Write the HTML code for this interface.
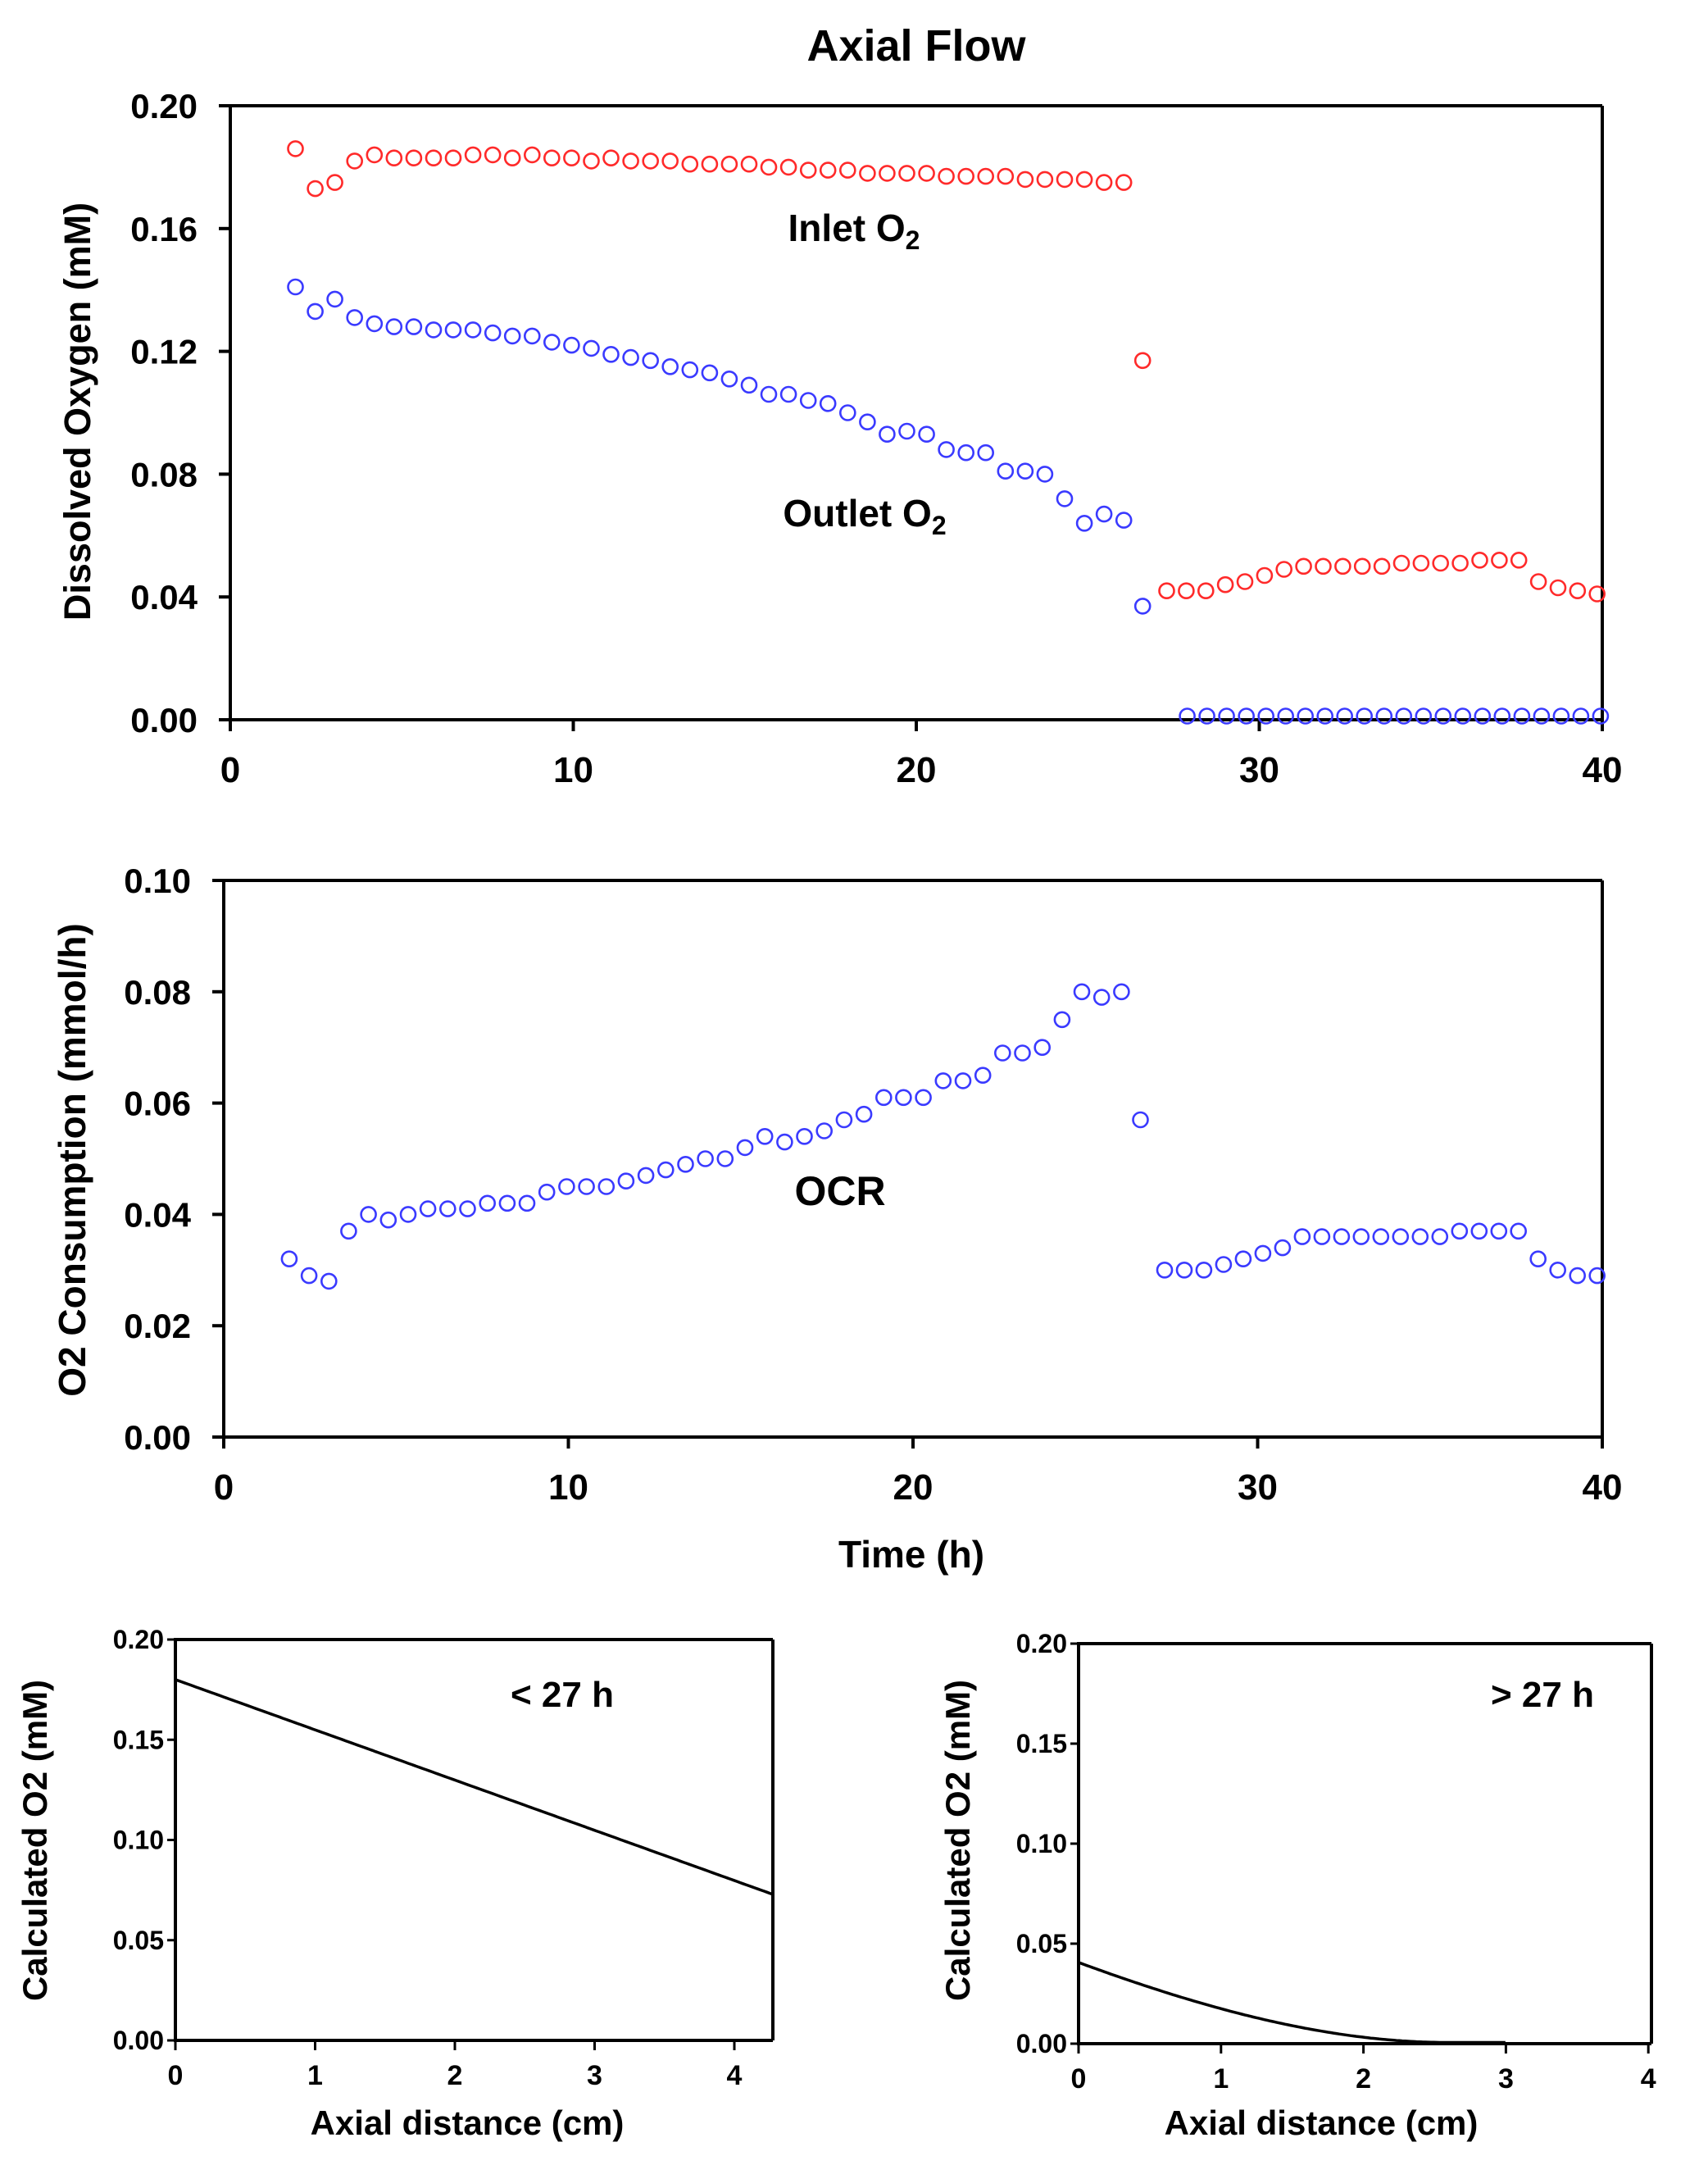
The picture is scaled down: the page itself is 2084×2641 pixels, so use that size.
<!DOCTYPE html>
<html><head><meta charset="utf-8"><style>
html,body{margin:0;padding:0;background:#fff;}
svg{display:block;}
text{font-family:"Liberation Sans",sans-serif;font-weight:bold;fill:#000;}
</style></head><body>
<svg id="s" width="2084" height="2641" xmlns="http://www.w3.org/2000/svg">
<text x="1118" y="74" font-size="54" text-anchor="middle">Axial Flow</text>
<text x="1042" y="294" font-size="46" text-anchor="middle">Inlet O<tspan font-size="32" dy="10">2</tspan></text>
<text x="1055" y="642" font-size="46" text-anchor="middle">Outlet O<tspan font-size="32" dy="10">2</tspan></text>
<text x="1025" y="1470" font-size="50" text-anchor="middle">OCR</text>
<text x="1112" y="1912" font-size="46" text-anchor="middle">Time (h)</text>
<text transform="translate(110,502) rotate(-90)" font-size="45" text-anchor="middle">Dissolved Oxygen (mM)</text>
<text transform="translate(104,1415) rotate(-90)" font-size="46" text-anchor="middle">O2 Consumption (mmol/h)</text>
<text x="686" y="2082" font-size="44" text-anchor="middle">&lt; 27 h</text>
<text x="1882" y="2082" font-size="44" text-anchor="middle">&gt; 27 h</text>
<text x="570" y="2604" font-size="42" text-anchor="middle">Axial distance (cm)</text>
<text x="1612" y="2604" font-size="42" text-anchor="middle">Axial distance (cm)</text>
<text transform="translate(57,2245) rotate(-90)" font-size="42" text-anchor="middle">Calculated O2 (mM)</text>
<text transform="translate(1183,2245) rotate(-90)" font-size="42" text-anchor="middle">Calculated O2 (mM)</text>
<g id="g"></g>
</svg>
<script>
var g=document.getElementById('g'),h='';
function ln(a,b,c,d,w){h+='<line x1="'+a+'" y1="'+b+'" x2="'+c+'" y2="'+d+'" stroke="#000" stroke-width="'+w+'"/>';}
function tx(x,y,s,fs,anc){h+='<text x="'+x+'" y="'+y+'" font-size="'+fs+'" text-anchor="'+anc+'">'+s+'</text>';}
function frame(L,R,T,B,w){ln(L,T,R,T,w);ln(R,T,R,B,w);ln(L,B,R,B,w);ln(L,T-2,L,B+2,w);}
// top
var L1=281,R1=1955,T1=129,B1=878;
frame(L1,R1,T1,B1,4);
for(var i=0;i<=5;i++){var y=B1-(B1-T1)*i/5;ln(L1-14,y,L1,y,4);tx(L1-40,y+15,(0.04*i).toFixed(2),42,'end');}
for(i=0;i<=4;i++){var x=L1+(R1-L1)*i/4;ln(x,B1,x,B1+14,4);tx(x,B1+76,10*i,44,'middle');}
// middle
var L2=273,R2=1955,T2=1074,B2=1753;
frame(L2,R2,T2,B2,4);
for(i=0;i<=5;i++){y=B2-(B2-T2)*i/5;ln(L2-14,y,L2,y,4);tx(L2-40,y+15,(0.02*i).toFixed(2),42,'end');}
for(i=0;i<=4;i++){x=L2+(R2-L2)*i/4;ln(x,B2,x,B2+14,4);tx(x,B2+76,10*i,44,'middle');}
function circ(L,R,T,B,ymax,t,v,col){var x=L+(R-L)*t/40,y=B-(B-T)*v/ymax;h+='<circle cx="'+x.toFixed(1)+'" cy="'+y.toFixed(1)+'" r="9" fill="none" stroke="'+col+'" stroke-width="2.6"/>';}
var red=[0.186,0.173,0.175,0.182,0.184,0.183,0.183,0.183,0.183,0.184,0.184,0.183,0.184,0.183,0.183,0.182,0.183,0.182,0.182,0.182,0.181,0.181,0.181,0.181,0.180,0.180,0.179,0.179,0.179,0.178,0.178,0.178,0.178,0.177,0.177,0.177,0.177,0.176,0.176,0.176,0.176,0.175,0.175];
var blue=[0.141,0.133,0.137,0.131,0.129,0.128,0.128,0.127,0.127,0.127,0.126,0.125,0.125,0.123,0.122,0.121,0.119,0.118,0.117,0.115,0.114,0.113,0.111,0.109,0.106,0.106,0.104,0.103,0.100,0.097,0.093,0.094,0.093,0.088,0.087,0.087,0.081,0.081,0.080,0.072,0.064,0.067,0.065];
var red2=[0.042,0.042,0.042,0.044,0.045,0.047,0.049,0.050,0.050,0.050,0.050,0.050,0.051,0.051,0.051,0.051,0.052,0.052,0.052,0.045,0.043,0.042,0.041];
var ocr=[0.032,0.029,0.028,0.037,0.040,0.039,0.040,0.041,0.041,0.041,0.042,0.042,0.042,0.044,0.045,0.045,0.045,0.046,0.047,0.048,0.049,0.050,0.050,0.052,0.054,0.053,0.054,0.055,0.057,0.058,0.061,0.061,0.061,0.064,0.064,0.065,0.069,0.069,0.070,0.075,0.080,0.079,0.080];
var ocr2=[0.030,0.030,0.030,0.031,0.032,0.033,0.034,0.036,0.036,0.036,0.036,0.036,0.036,0.036,0.036,0.037,0.037,0.037,0.037,0.032,0.030,0.029,0.029];
var RC='#ff2a2a',BC='#3a3aff';
for(i=0;i<43;i++){var t=1.9+i*0.575;circ(L1,R1,T1,B1,0.2,t,red[i],RC);circ(L1,R1,T1,B1,0.2,t,blue[i],BC);circ(L2,R2,T2,B2,0.1,t,ocr[i],BC);}
circ(L1,R1,T1,B1,0.2,26.6,0.117,RC);circ(L1,R1,T1,B1,0.2,26.6,0.037,BC);circ(L2,R2,T2,B2,0.1,26.6,0.057,BC);
for(i=0;i<23;i++){t=27.3+i*(39.85-27.3)/22;circ(L1,R1,T1,B1,0.2,t,red2[i],RC);circ(L2,R2,T2,B2,0.1,t,ocr2[i],BC);}
for(i=0;i<22;i++){t=27.9+i*(39.95-27.9)/21;circ(L1,R1,T1,B1,0.2,t,0.0012,BC);}
function small(L,R,T,B,unit,fn){
 frame(L,R,T,B,4);
 for(var i=0;i<=4;i++){var y=B-(B-T)*i/4;ln(L-10,y,L,y,3);tx(L-14,y+11,(0.05*i).toFixed(2),32,'end');}
 for(i=0;i<=4;i++){var x=L+unit*i;ln(x,B,x,B+12,3);tx(x,B+54,i,34,'middle');}
 var xm=(R-L)/unit;
 var p='';for(var k=0;k<=200;k++){var xv=xm*k/200;var v=fn(xv);if(v===null)continue;p+=(p?'L':'M')+(L+unit*xv).toFixed(1)+','+(B-(B-T)*v/0.2).toFixed(1);}
 h+='<path d="'+p+'" fill="none" stroke="#000" stroke-width="3.5"/>';
}
small(214,943,2000,2489,170.5,function(x){return 0.18-(0.18-0.073)*x/4.27;});
small(1316,2015,2005,2493,173.8,function(x){if(x>3)return null;var u=Math.max(0,1-x/2.6);return 0.04*u*u*(1+0.3*(1-u))*(x<2.6?1:0)+0.0006;});
g.innerHTML=h;
</script>
</body></html>
